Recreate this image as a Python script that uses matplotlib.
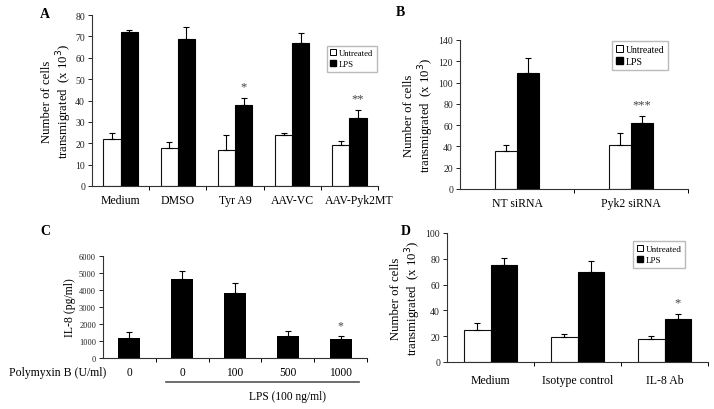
import numpy as np
import matplotlib.pyplot as plt
import matplotlib.transforms as mtransforms
from matplotlib.patches import Patch

plt.rcParams['font.family'] = ['Liberation Serif', 'DejaVu Serif']

W, H = 714, 410

# panel A
a_cats = ['Medium', 'DMSO', 'Tyr A9', 'AAV-VC', 'AAV-Pyk2MT']
a_untr = [22, 18, 17, 24, 19]
a_untr_err = [3, 2.5, 7, 0.6, 2]
a_lps = [72, 69, 38, 67, 32]
a_lps_err = [1, 5.5, 3.2, 4.5, 3.5]
a_stars = ['', '', '*', '', '**']

# panel B
b_cats = ['NT siRNA', 'Pyk2 siRNA']
b_untr = [36, 41]
b_untr_err = [5, 12]
b_lps = [109, 62]
b_lps_err = [14, 7]
b_stars = ['', '***']

# panel C
c_labels = ['0', '0', '100', '500', '1000']
c_vals = [1200, 4650, 3850, 1300, 1100]
c_err = [330, 470, 550, 280, 220]
c_stars = ['', '', '', '', '*']

# panel D
d_cats = ['Medium', 'Isotype control', 'IL-8 Ab']
d_untr = [25, 19, 18]
d_untr_err = [5, 3, 2]
d_lps = [75, 70, 33]
d_lps_err = [6, 8, 4]
d_stars = ['', '', '*']


def px_axes(fig, x0, x1, ytop, y0):
    return fig.add_axes([x0 / W, (H - y0) / H, (x1 - x0) / W, (y0 - ytop) / H])


def style(ax, n, ymax, ystep, labelsize=7):
    ax.spines['top'].set_visible(False)
    ax.spines['right'].set_visible(False)
    for s in ['left', 'bottom']:
        ax.spines[s].set_linewidth(0.8)
        ax.spines[s].set_color('#333333')
    ax.set_xlim(-0.5, n - 0.5)
    ax.set_ylim(0, ymax)
    ax.set_yticks(np.arange(0, ymax + 1, ystep))
    ax.tick_params(axis='y', labelsize=labelsize, length=3, width=0.7, pad=2,
                   colors='#222222')
    ax.set_xticks(np.arange(n) + 0.5, minor=True)
    ax.tick_params(axis='x', which='minor', length=3, width=0.7)
    ax.tick_params(axis='x', which='major', length=0, pad=6, labelsize=8.5)


def pair_bars(ax, cats, untr, untr_err, lps, lps_err, stars, w):
    x = np.arange(len(cats))
    ax.bar(x - w / 2, untr, w, color='white', edgecolor='#111111', linewidth=0.8)
    ax.bar(x + w / 2, lps, w, color='black', edgecolor='black', linewidth=0.8)
    ax.errorbar(x - w / 2, untr, yerr=[np.zeros(len(x)), untr_err], fmt='none',
                ecolor='black', elinewidth=0.8, capsize=2.5, capthick=0.8)
    ax.errorbar(x + w / 2, lps, yerr=[np.zeros(len(x)), lps_err], fmt='none',
                ecolor='black', elinewidth=0.8, capsize=2.5, capthick=0.8)
    for i, s in enumerate(stars):
        if s:
            ax.annotate(s, (x[i] + w / 2, lps[i] + lps_err[i]), xytext=(0, 4),
                        textcoords='offset points', ha='center', va='bottom',
                        fontsize=9, color='#444444')
    ax.set_xticks(x)
    ax.set_xticklabels(cats)


def legend(ax, x0, ytop, size=6.5):
    h = [Patch(facecolor='white', edgecolor='black', linewidth=0.7),
         Patch(facecolor='black', edgecolor='black')]
    ax.legend(h, ['Untreated', 'LPS'], loc='upper left',
              bbox_to_anchor=(x0 / W, 1 - ytop / H), bbox_transform=fig.transFigure,
              fontsize=size, frameon=True, fancybox=False, edgecolor='#aaaaaa',
              handlelength=0.7, handleheight=0.7, handletextpad=0.3,
              borderpad=0.4, labelspacing=0.3, borderaxespad=0)


fig = plt.figure(figsize=(W / 100, H / 100), dpi=100)
ylab = 'Number of cells\ntransmigrated  (x 10$^3$)'

# A
axA = px_axes(fig, 92, 378, 16, 187)
pair_bars(axA, a_cats, a_untr, a_untr_err, a_lps, a_lps_err, a_stars, 0.3)
style(axA, len(a_cats), 80, 10)
axA.set_ylabel(ylab, fontsize=9.2, linespacing=1.05, labelpad=1)
legend(axA, 327, 47, size=6.2)
# long last label sits a little to the right, as in the original
last = axA.get_xticklabels()[-1]
last.set_transform(last.get_transform() +
                   mtransforms.ScaledTranslation(0.1, 0, fig.dpi_scale_trans))
fig.text(45 / W, 1 - 14 / H, 'A', fontsize=10, fontweight='bold', va='center', ha='center')

# B
axB = px_axes(fig, 460, 688, 41, 190)
pair_bars(axB, b_cats, b_untr, b_untr_err, b_lps, b_lps_err, b_stars, 0.19)
style(axB, len(b_cats), 140, 20)
axB.set_ylabel(ylab, fontsize=9.2, linespacing=1.05, labelpad=2)
legend(axB, 612, 42, size=7)
fig.text(400 / W, 1 - 12 / H, 'B', fontsize=10, fontweight='bold', va='center', ha='center')

# C
axC = px_axes(fig, 103, 367, 257, 359)
xc = np.arange(len(c_vals))
axC.bar(xc, c_vals, 0.42, color='black')
axC.errorbar(xc, c_vals, yerr=[np.zeros(len(xc)), c_err], fmt='none',
             ecolor='black', elinewidth=0.8, capsize=2.5, capthick=0.8)
for i, s in enumerate(c_stars):
    if s:
        axC.annotate(s, (xc[i], c_vals[i] + c_err[i]), xytext=(0, 3),
                     textcoords='offset points', ha='center', va='bottom',
                     fontsize=8.5, color='#444444')
style(axC, len(c_vals), 6000, 1000, labelsize=6)
axC.set_xticks(xc)
axC.set_xticklabels(c_labels)
axC.tick_params(axis='x', which='major', pad=6, labelsize=8.3)
axC.set_ylabel('IL-8 (pg/ml)', fontsize=8.5, labelpad=2)
axC.text(0.012, -0.14, 'Polymyxin B (U/ml)', transform=axC.transAxes,
         ha='right', va='center', fontsize=8.5)
axC.plot([0.7, 4.35], [-0.235, -0.235], color='#555555', lw=1.2,
         transform=axC.get_xaxis_transform(), clip_on=False)
axC.text(3.0, -0.37, 'LPS (100 ng/ml)', transform=axC.get_xaxis_transform(),
         ha='center', va='center', fontsize=8.3)
fig.text(45 / W, 1 - 232 / H, 'C', fontsize=10, fontweight='bold', va='center', ha='center')

# D
axD = px_axes(fig, 447, 708, 234, 363)
pair_bars(axD, d_cats, d_untr, d_untr_err, d_lps, d_lps_err, d_stars, 0.3)
style(axD, len(d_cats), 100, 20)
axD.tick_params(axis='x', which='major', pad=9)
axD.set_ylabel(ylab, fontsize=9.2, linespacing=1.05, labelpad=2)
legend(axD, 633, 242)
fig.text(406 / W, 1 - 232 / H, 'D', fontsize=10, fontweight='bold', va='center', ha='center')

fig.savefig('out.png', dpi=100)
